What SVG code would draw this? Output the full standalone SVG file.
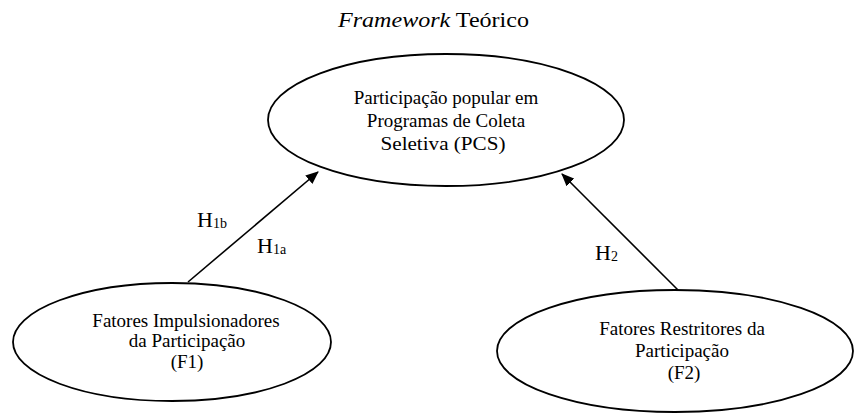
<svg xmlns="http://www.w3.org/2000/svg" width="856" height="414" viewBox="0 0 856 414">
<style>
text { font-family: "Liberation Serif", "Times New Roman", serif; fill: #000; }
.t { font-size: 19px; text-anchor: middle; }
.h { font-size: 22px; }
.s { font-size: 14px; }
ellipse { fill: #fff; stroke: #000; stroke-width: 1.8; }
.c { stroke: #000; stroke-width: 1.6; fill: none; marker-end: url(#ah); }
</style>
<defs>
<marker id="ah" markerWidth="13" markerHeight="11" refX="12" refY="5.5" orient="auto" markerUnits="userSpaceOnUse">
<path d="M0,0 L13,5.5 L0,11 Z" fill="#000"/>
</marker>
</defs>
<rect width="856" height="414" fill="#fff"/>
<g id="title">
<text x="338" y="27" font-size="21" textLength="191" lengthAdjust="spacingAndGlyphs"><tspan font-style="italic">Framework</tspan> Teórico</text>
</g>
<g id="connectors">
<line class="c" x1="188" y1="282" x2="318" y2="172"/>
<line class="c" x1="678" y1="290" x2="562" y2="174"/>
<text class="h" x="197" y="227">H<tspan class="s" dy="1">1b</tspan></text>
<text class="h" x="257" y="253">H<tspan class="s" dy="1">1a</tspan></text>
<text class="h" x="595" y="260">H<tspan class="s" dy="1">2</tspan></text>
</g>
<g id="pcs">
<ellipse cx="446" cy="120" rx="178" ry="66"/>
<text class="t" x="446" y="104">Participação popular em</text>
<text class="t" x="446" y="127">Programas de Coleta</text>
<text class="t" x="443" y="150" textLength="125" lengthAdjust="spacingAndGlyphs">Seletiva (PCS)</text>
</g>
<g id="f1">
<ellipse cx="172" cy="342" rx="159" ry="59"/>
<text class="t" x="186" y="327">Fatores Impulsionadores</text>
<text class="t" x="187" y="347">da Participação</text>
<text class="t" x="187" y="368">(F1)</text>
</g>
<g id="f2">
<ellipse cx="675" cy="351" rx="178" ry="61"/>
<text class="t" x="682" y="335">Fatores Restritores da</text>
<text class="t" x="682" y="357">Participação</text>
<text class="t" x="684" y="379">(F2)</text>
</g>
</svg>
